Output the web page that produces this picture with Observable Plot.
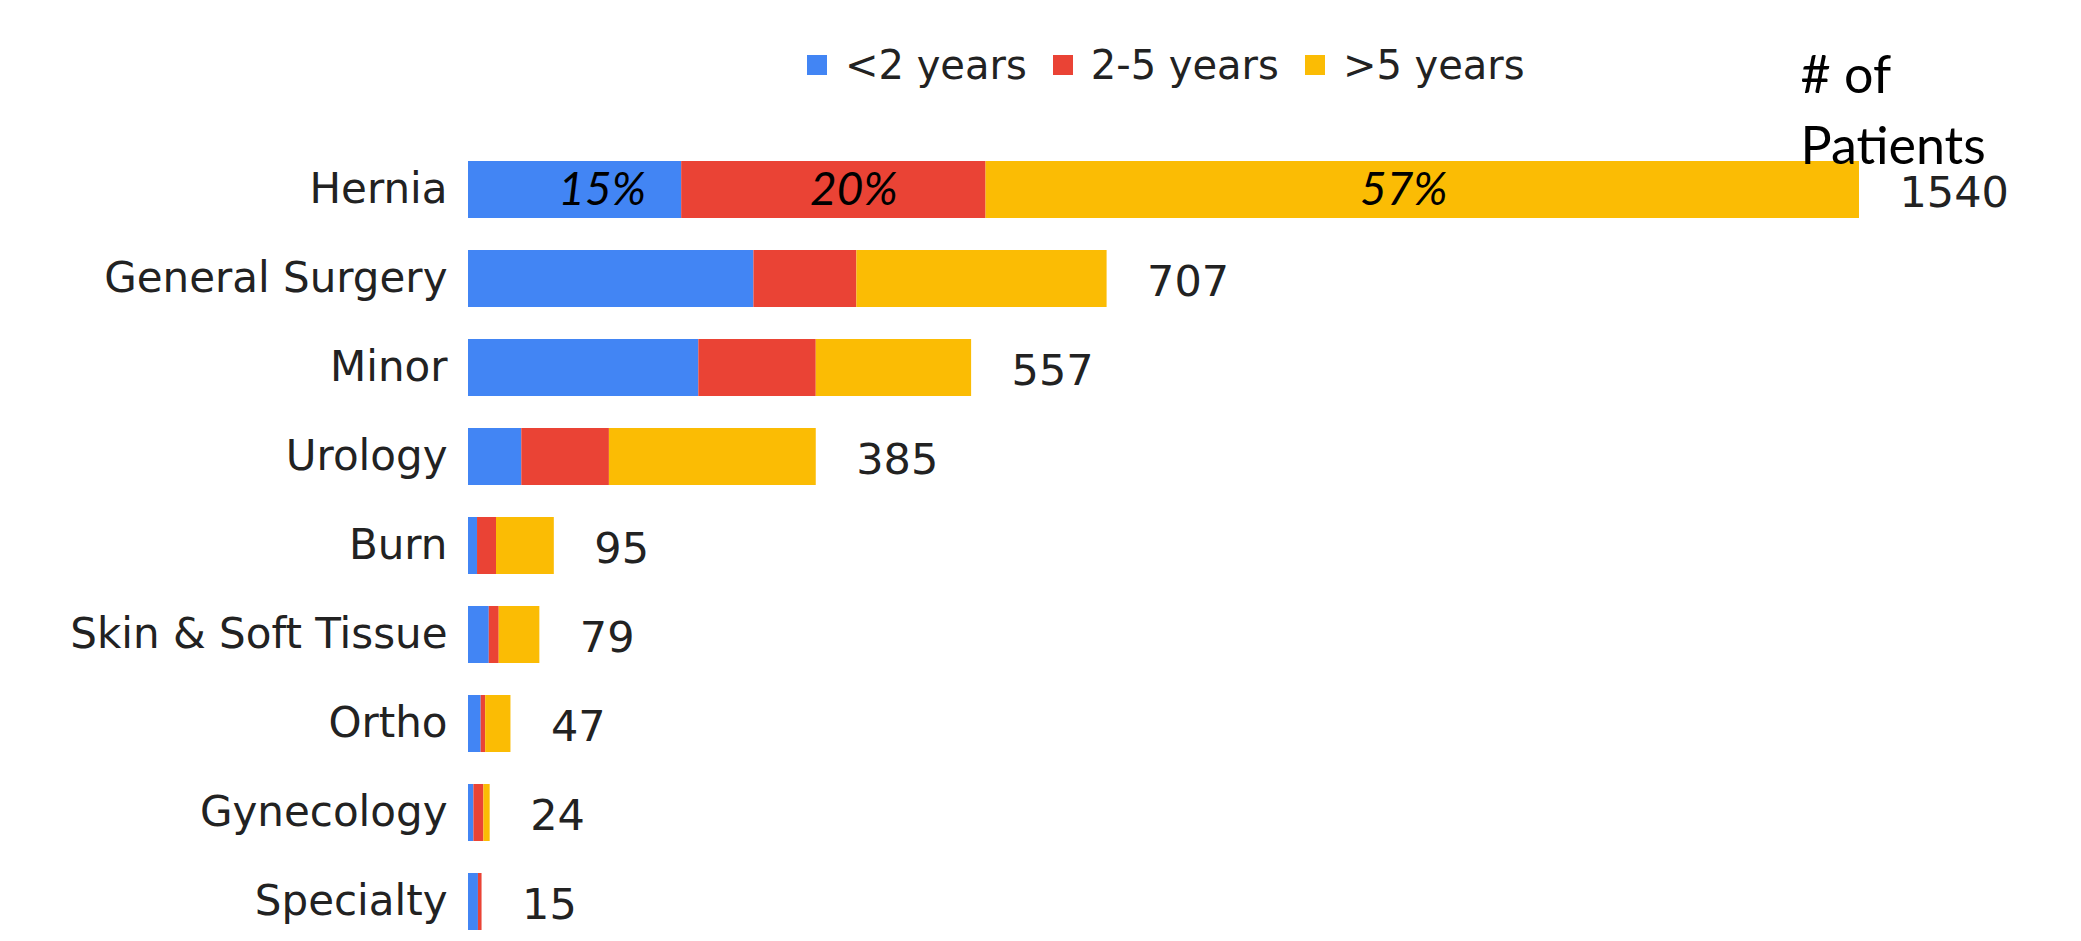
<!DOCTYPE html>
<html>
<head>
<meta charset="utf-8">
<script src="https://cdn.jsdelivr.net/npm/d3@7"></script>
<script src="https://cdn.jsdelivr.net/npm/@observablehq/plot@0.6"></script>
<style>
  html, body { margin: 0; padding: 0; background: #fff; }
  #wrap { position: relative; width: 2081px; height: 941px; }
  #legend { position: absolute; left: 807px; top: 45px; white-space: nowrap; }
  #legend .lg-swatches { margin: 0 !important; min-height: 40px !important; line-height: 40px; flex-wrap: nowrap !important; }
  #legend .lg-swatch { margin-right: 26px !important; }
  #legend .lg-swatch > svg { margin-right: 18px !important; }
</style>
</head>
<body>
<div id="wrap"><div id="legend"></div></div>
<script>
// ---- data ----
const categories = ["Hernia", "General Surgery", "Minor", "Urology", "Burn", "Skin & Soft Tissue", "Ortho", "Gynecology", "Specialty"];
const series = ["<2 years", "2-5 years", ">5 years"];
const seriesColors = ["#4285F4", "#EA4335", "#FBBC04"];
const under2Years = [236, 316, 255, 59, 10, 23, 14, 6, 11];
const twoToFiveYears = [337, 114, 130, 97, 21, 11, 5, 11, 4];
const over5Years = [967, 277, 172, 229, 64, 45, 28, 7, 0];
const totals = [1540, 707, 557, 385, 95, 79, 47, 24, 15];
const herniaPctLabels = ["15%", "20%", "57%"];
const axisTitle = "# of\nPatients";

// ---- tables ----
const seriesValues = [under2Years, twoToFiveYears, over5Years];
const rows = categories.flatMap((cat, i) =>
  series.map((s, j) => ({cat, series: s, value: seriesValues[j][i]}))
);
const pctRows = series.map((s, j) => ({cat: categories[0], series: s, value: seriesValues[j][0], pct: herniaPctLabels[j]}));
const totalRows = categories.map((cat, i) => ({cat, total: totals[i]}));

// label nudges (style only) for the hand-placed percentage labels
const pctNudge = [27, 20, -19];

// ---- legend ----
const legend = Plot.legend({
  color: {type: "categorical", domain: series, range: seriesColors},
  swatchSize: 20,
  className: "lg",
  style: {fontSize: "40px", fontFamily: "DejaVu Sans", color: "#222"}
});
document.getElementById("legend").appendChild(legend);

// ---- chart ----
const pctMarks = series.map((s, j) =>
  Plot.text(pctRows, Plot.stackX({
    x: "value", y: "cat",
    text: d => (d.series === s ? d.pct : null),
    dx: pctNudge[j],
    fontStyle: "italic", fontFamily: "Lato", fontSize: 46, fill: "#000"
  }))
);

const chart = Plot.plot({
  width: 2081,
  height: 941,
  marginLeft: 468,
  marginRight: 222,
  marginTop: 158,
  marginBottom: 9,
  style: {fontFamily: "DejaVu Sans", fontSize: "42px", color: "#222", overflow: "visible", background: "transparent"},
  x: {axis: null, domain: [0, d3.max(totals)]},
  y: {domain: categories, paddingInner: 0.36, paddingOuter: 0, axis: null},
  color: {domain: series, range: seriesColors},
  marks: [
    Plot.barX(rows, Plot.stackX({x: "value", y: "cat", fill: "series"})),
    ...pctMarks,
    Plot.text(totalRows, {x: "total", y: "cat", text: d => String(d.total), dx: 40, dy: 3, fontSize: 43, textAnchor: "start", fill: "#222"}),
    Plot.axisY({tickSize: 0, tickPadding: 21, fontSize: 42, label: null}),
    Plot.text([axisTitle], {frameAnchor: "top-right", dx: -59, dy: 5, textAnchor: "start", lineAnchor: "bottom", fontSize: 52, lineHeight: 1.35, fontFamily: "Lato", fill: "#000"})
  ]
});
chart.style.position = "absolute";
chart.style.left = "0";
chart.style.top = "0";
document.getElementById("wrap").insertBefore(chart, document.getElementById("legend"));
</script>
</body>
</html>
